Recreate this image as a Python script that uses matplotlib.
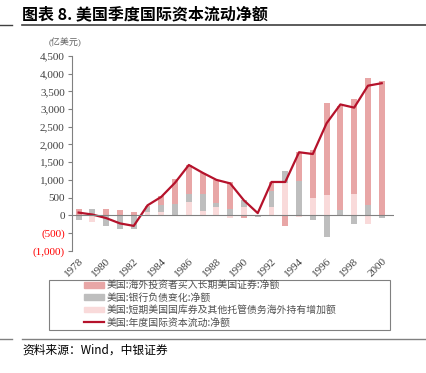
import matplotlib.pyplot as plt
import numpy as np
from matplotlib.lines import Line2D
from matplotlib.patches import Patch, Rectangle

plt.rcParams['font.family'] = ['Liberation Serif', 'Noto Sans CJK SC']

years = np.arange(1978, 2001)
# 美国:海外投资者买入长期美国证券:净额
long_term = [190, 0, 190, 150, 100, 30, 260, 680, 820, 590, 630, 755, -90, 0,
             250, -310, 820, 1350, 2610, 2940, 2670, 3590, 3795]
# 美国:银行负债变化:净额
bank = [-120, 190, -300, -400, -380, 150, 180, 330, 230, 500, 120, 190, 200, -50,
        450, 350, 960, -120, -610, 160, -250, 280, -90]
# 美国:短期美国国库券及其他托管债务海外持有增加额
short_term = [0, -180, 0, 0, 0, 90, 100, -30, 380, 110, 240, -90, 240, 20,
              240, 900, -40, 490, 570, 0, 610, -260, 0]
# 美国:年度国际资本流动:净额
net_flow = [75, 20, -80, -230, -300, 280, 520, 920, 1420, 1200, 1000, 900, 420, 60,
            940, 940, 1780, 1730, 2600, 3130, 3040, 3660, 3730]

labels = ["美国:海外投资者买入长期美国证券:净额", "美国:银行负债变化:净额",
          "美国:短期美国国库券及其他托管债务海外持有增加额", "美国:年度国际资本流动:净额"]
c_long, c_bank, c_short, c_line = "#E8A6A6", "#BEBEBE", "#F9DADA", "#B5122B"

fig = plt.figure(figsize=(4.27, 3.73), dpi=100)
ax = fig.add_axes([0.168, 0.328, 0.755, 0.522])

# stack positives upward and negatives downward: short, bank, long
pos = np.zeros(len(years))
neg = np.zeros(len(years))
w = 0.43
for vals, col in [(short_term, c_short), (bank, c_bank), (long_term, c_long)]:
    v = np.array(vals, dtype=float)
    p = np.where(v > 0, v, 0)
    n = np.where(v < 0, v, 0)
    ax.bar(years, p, w, bottom=pos, color=col, linewidth=0)
    ax.bar(years, n, w, bottom=neg, color=col, linewidth=0)
    pos += p
    neg += n

ax.plot(years, net_flow, color=c_line, lw=1.6)
ax.axhline(0, color="#808080", lw=0.8)

ax.set_ylim(-1000, 4500)
ax.set_xlim(1977.5, 2000.9)
yt = np.arange(-1000, 4501, 500)
ax.set_yticks(yt)
ylabs = []
for t in yt:
    if t < 0:
        ylabs.append("({:,})".format(-t))
    else:
        ylabs.append("{:,}".format(t))
ax.set_yticklabels(ylabs, fontsize=8)
for lab, t in zip(ax.get_yticklabels(), yt):
    lab.set_color("#FF0000" if t < 0 else "#404040")

xt = np.arange(1978, 2001, 2)
ax.set_xticks(xt)
ax.set_xticklabels([str(x) for x in xt], rotation=45, fontsize=8, ha="right",
                   rotation_mode="anchor", color="#404040")
ax.tick_params(axis="x", length=0, pad=4)
ax.tick_params(axis="y", length=3, color="#808080", pad=2)
for s in ["top", "right", "bottom"]:
    ax.spines[s].set_visible(False)
ax.spines["left"].set_color("#808080")

fig.text(0.115, 0.887, "(亿美元)", fontsize=6.5, color="#606060", va="center")

handles = [Patch(color=c_long), Patch(color=c_bank), Patch(color=c_short),
           Line2D([0], [0], color=c_line, lw=1.6)]
leg = fig.legend(handles, labels, loc="upper left", bbox_to_anchor=(0.185, 0.262),
                 frameon=False, handlelength=2.0, handleheight=0.5,
                 handletextpad=0.3, borderpad=0.0, labelspacing=0.25,
                 prop={'family': ['Noto Sans CJK SC'], 'size': 7.1})
for t in leg.get_texts():
    t.set_color("#505050")
fig.add_artist(Rectangle((0.115, 0.115), 0.798, 0.134, transform=fig.transFigure,
                         fill=False, edgecolor="#808080", lw=0.8))

# header and footer
fig.text(0.052, 0.962, "图表 8. 美国季度国际资本流动净额", fontsize=11.5, fontweight="bold",
         va="center", family=['Noto Sans CJK SC'])
fig.add_artist(Line2D([0.052, 1.0], [0.933, 0.933], color="#404040", lw=1.2))
fig.add_artist(Line2D([0.0, 0.028], [0.933, 0.933], color="#404040", lw=1.0))
fig.add_artist(Line2D([0.052, 1.0], [0.091, 0.091], color="#808080", lw=1.0))
fig.add_artist(Line2D([0.0, 0.028], [0.091, 0.091], color="#808080", lw=1.0))
fig.text(0.052, 0.06, "资料来源：Wind，中银证券", fontsize=8.5, style="italic",
         va="center", family=['Noto Sans CJK SC'])

fig.savefig("out.png", dpi=100)
